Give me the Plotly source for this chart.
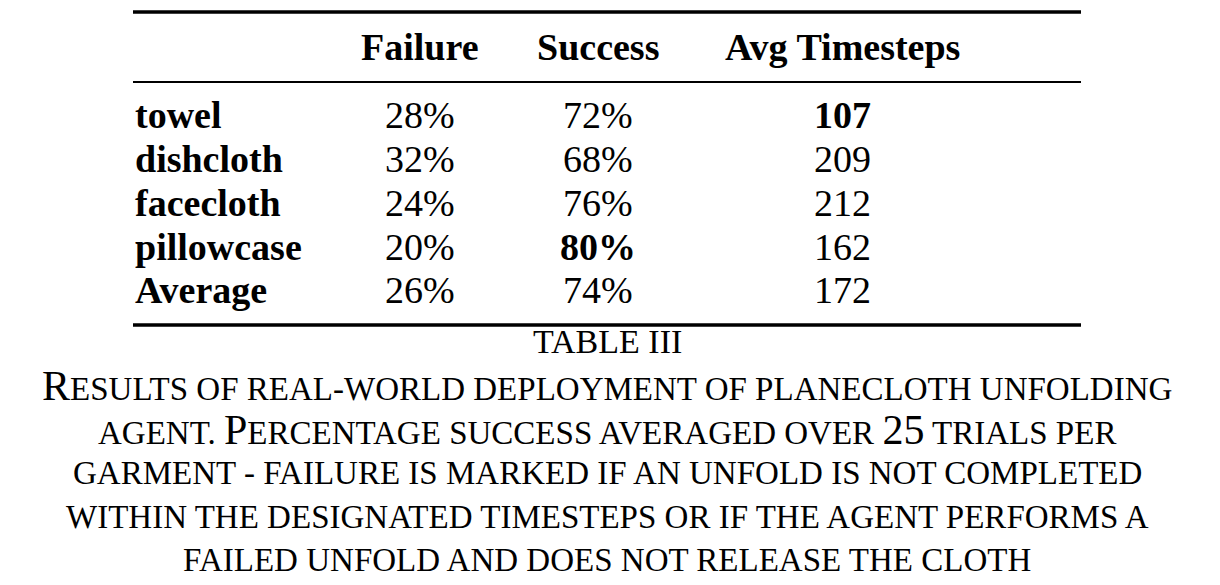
import plotly.graph_objects as go

# table contents
headers = ["Failure", "Success", "Avg Timesteps"]
garments = ["towel", "dishcloth", "facecloth", "pillowcase", "Average"]
failure = ["28%", "32%", "24%", "20%", "26%"]
success = ["72%", "68%", "76%", "80%", "74%"]
timesteps = ["107", "209", "212", "162", "172"]
bold_cells = {("Success", 3), ("Avg Timesteps", 0)}

table_label = "TABLE III"
caption_lines = [
    "Results of real-world deployment of planecloth unfolding",
    "agent. Percentage success averaged over 25 trials per",
    "garment - failure is marked if an unfold is not completed",
    "within the designated timesteps or if the agent performs a",
    "failed unfold and does not release the cloth",
]

FONT = "Liberation Serif, Times New Roman, serif"


def small_caps(line, small=33):
    # capitals at full size, everything else as smaller capitals
    out = []
    for i, ch in enumerate(line):
        if ch.isdigit() or (ch.isupper() and (i == 0 or line[i - 1] in " .")):
            out.append(ch)
        else:
            out.append(f"<span style='font-size:{small}px'>{ch.upper()}</span>")
    return "".join(out)


fig = go.Figure()
ann = []

col_x = [420, 598, 842]
head_y = 47
row_y = [115, 159, 203, 247, 290]

for x, h in zip(col_x, headers):
    ann.append(dict(x=x, y=head_y, text=f"<b>{h}</b>", xanchor="center"))

for i, g in enumerate(garments):
    ann.append(dict(x=133, y=row_y[i], text=f"<b>{g}</b>", xanchor="left"))
    for x, h, vals in zip(col_x, headers, [failure, success, timesteps]):
        t = vals[i]
        if (h, i) in bold_cells:
            t = f"<b>{t}</b>"
        ann.append(dict(x=x, y=row_y[i], text=t, xanchor="center"))

for a in ann:
    a.update(showarrow=False, yanchor="middle", font=dict(size=38, color="black"))

ann.append(dict(x=607, y=341, text=table_label, showarrow=False, xanchor="center",
                yanchor="middle", font=dict(size=34, color="black")))
cap_y = [386, 430, 473, 517, 560]
for y, line in zip(cap_y, caption_lines):
    ann.append(dict(x=607, y=y, text=small_caps(line), showarrow=False, xanchor="center",
                    yanchor="middle", font=dict(size=42, color="black")))

rules = [(12, 3.5), (82, 1.8), (325, 3.5)]
shapes = [dict(type="line", x0=133, x1=1081, y0=y, y1=y, xref="x", yref="y",
               line=dict(color="black", width=w)) for y, w in rules]

fig.update_layout(
    width=1220, height=585,
    margin=dict(l=0, r=0, t=0, b=0),
    paper_bgcolor="white", plot_bgcolor="white",
    font=dict(family=FONT, color="black"),
    annotations=ann, shapes=shapes,
    # page body adds an 8px offset; shift the ranges to compensate
    xaxis=dict(range=[8, 1228], visible=False, fixedrange=True),
    yaxis=dict(range=[593, 8], visible=False, fixedrange=True),
    showlegend=False,
)

fig.write_html("out.html", config={"displayModeBar": False})
